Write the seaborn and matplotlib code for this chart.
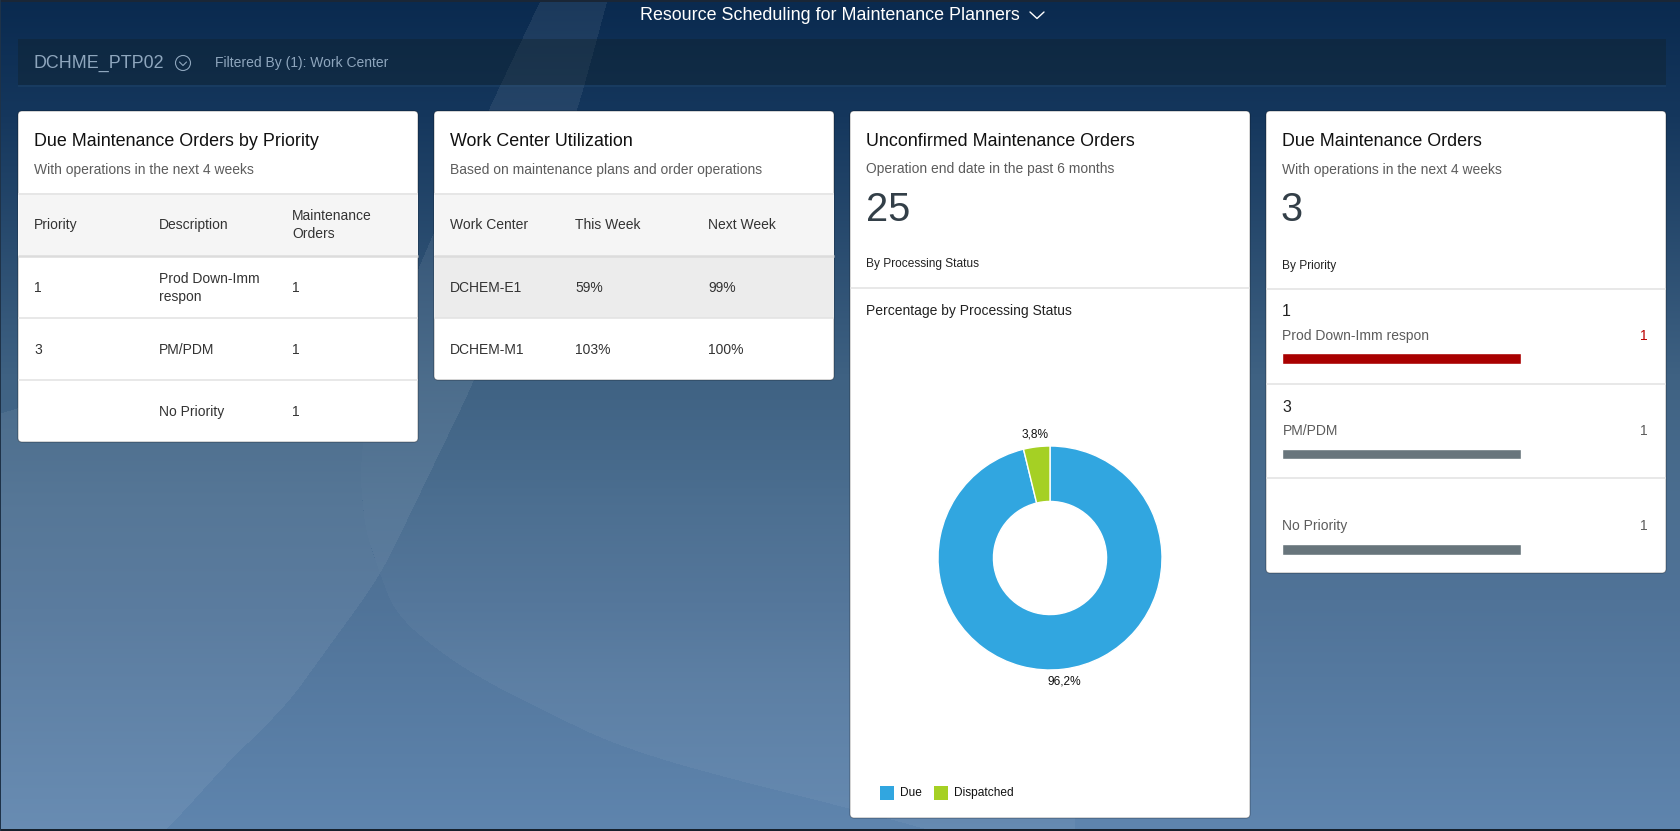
import numpy as np
import pandas as pd
import seaborn as sns
import matplotlib.pyplot as plt
from matplotlib.patches import FancyBboxPatch, Rectangle, Circle

W, H = 1681, 831

# chart values
priority_header = ["Priority", "Description", "Maintenance\nOrders"]
priority_codes = ["1", "3", ""]
priority_desc = ["Prod Down-Imm\nrespon", "PM/PDM", "No Priority"]
priority_orders = [1, 1, 1]

wc_header = ["Work Center", "This Week", "Next Week"]
wc_names = ["DCHEM-E1", "DCHEM-M1"]
wc_this_week = [59, 103]
wc_next_week = [99, 100]

status_names = ["Due", "Dispatched"]
status_pct = [96.2, 3.8]
status_colors = ["#31a6e0", "#a5d024"]

bar_desc = ["Prod Down-Imm respon", "PM/PDM", "No Priority"]
bar_values = [1, 1, 1]
bar_colors = ["#a90000", "#68757c", "#68757c"]

sns.set_theme(style="white")
plt.rcParams["font.family"] = ["Liberation Sans", "DejaVu Sans"]

fig = plt.figure(figsize=(W / 100, H / 100), dpi=100)
ax = fig.add_axes([0, 0, 1, 1])
ax.set_xlim(0, W)
ax.set_ylim(H, 0)
ax.axis("off")


def curve(ys, xs, n):
    # edge of a background swoosh, one x per pixel row, evened out over n rows each way
    rows = np.arange(-n, H + n)
    raw = np.interp(rows, ys, xs)
    return np.convolve(raw, np.ones(2 * n + 1) / (2 * n + 1), mode="valid")


# ── background ──────────────────────────────
yy, xx = np.mgrid[0:H, 0:W]
stops_y = [0, 110, 380, 500, 600, 830]
stops_c = np.array([[10, 42, 79], [20, 54, 92], [63, 98, 131], [75, 110, 144], [80, 115, 152], [95, 133, 174]])
bg = np.dstack([np.interp(yy, stops_y, stops_c[:, i]) for i in range(3)]).astype(float)

left_y = [-60, 0, 110, 240, 370, 443, 480, 530, 575, 613, 647, 680, 713, 747, 780, 807, 831, 880]
left_x = [571, 540, 488, 430, 375, 362, 360, 365, 380, 395, 433, 483, 549, 620, 735, 847, 935, 1100]
right_y = [-60, 0, 110, 380, 575, 713, 747, 831, 890]
right_x = [623, 607, 577, 474, 380, 280, 241, 165, 100]
L = curve(left_y, left_x, 18)[yy]
R = curve(right_y, right_x, 30)[yy]

alpha = np.zeros((H, W))
alpha[(xx > L) & (xx < R)] = 0.07
alpha[(xx < L) & (xx < R) & (yy > 413 - 0.3 * xx)] = 0.06
fade = np.clip((yy - 480) / 200, 0, 1) * 0.045
mask_b = (xx > L) & (xx > R) & (xx < 1075)
alpha[mask_b] = fade[mask_b]
bg = bg + (255 - bg) * alpha[..., None]

# header strip
strip = bg[39:85, 18:1666]
bg[39:85, 18:1666] = strip * 0.65 + np.array([15, 30, 35]) * 0.35
bg[85:87, 18:1666] = bg[85:87, 18:1666] * 0.8 + np.array([50, 90, 125]) * 0.2

# screenshot edge
bg[:2, :] = [26, 38, 54]
bg[-2:, :] = [22, 32, 44]
bg[:, 0] = [30, 50, 72]
bg[:, -1] = [30, 50, 72]

ax.imshow(bg.astype(np.uint8), extent=(0, W, H, 0), aspect="auto", zorder=0, interpolation="nearest")


def txt(x, y, s, px=14, color="#333333", ha="left", **kw):
    ax.text(x, y + 1, s, fontsize=px * 0.715, color=color, ha=ha, va="center", zorder=5, **kw)


def card(x0, y0, x1, y1):
    ax.add_patch(FancyBboxPatch((x0, y0), x1 - x0, y1 - y0, boxstyle="round,pad=0,rounding_size=4",
                                fc="white", ec=(0, 0, 0, 0.3), lw=0.8, zorder=2))


def hline(x0, x1, y, color="#e2e2e2", lw=1.1):
    ax.plot([x0, x1], [y, y], color=color, lw=lw, zorder=4, solid_capstyle="butt")


def panel_axes(x0, y0, x1, y1):
    a = fig.add_axes([x0 / W, 1 - y1 / H, (x1 - x0) / W, (y1 - y0) / H])
    a.patch.set_alpha(0)
    return a


# ── page header ──────────────────────────────
txt(640, 15, "Resource Scheduling for Maintenance Planners", 18, "white")
ax.plot([1030, 1037, 1044], [12, 18.5, 12], color="white", lw=1, zorder=5)
txt(34, 62, "DCHME_PTP02", 18, "#8ea6bd")
ax.add_patch(Circle((183, 63), 7.5, fc="none", ec="#8ea6bd", lw=0.8, zorder=5))
ax.plot([179.5, 183, 186.5], [62, 65.5, 62], color="#8ea6bd", lw=0.8, zorder=5)
txt(215, 62, "Filtered By (1): Work Center", 14, "#8ea6bd")

# ── table cards ──────────────────────────────
for x0, x1, y1, title, sub in [
    (18, 418, 442, "Due Maintenance Orders by Priority", "With operations in the next 4 weeks"),
    (434, 834, 380, "Work Center Utilization", "Based on maintenance plans and order operations"),
]:
    card(x0, 111, x1, y1)
    txt(x0 + 16, 141, title, 18, "#111111")
    txt(x0 + 16, 169, sub, 14, "#5c5c5c")
    ax.add_patch(Rectangle((x0, 193), x1 - x0, 63, fc="#f5f5f5", ec="none", zorder=3))
    hline(x0, x1, 193.5)
    hline(x0, x1, 256, "#dcdcdc", 1.8)

ax.add_patch(Rectangle((434, 257), 400, 61, fc="#ececec", ec="none", zorder=3))

row_y = [287, 349, 411]
for x, s in zip([34, 159, 292], priority_header):
    txt(x, 224, s, 14, "#333333", linespacing=1.35)
for y, code, desc, n in zip(row_y, priority_codes, priority_desc, priority_orders):
    txt(34, y, code)
    txt(159, y, desc, linespacing=1.35)
    txt(292, y, str(n))
hline(18, 418, 318)
hline(18, 418, 380)

for x, s in zip([450, 575, 708], wc_header):
    txt(x, 224, s)
for y, name, a, b in zip(row_y, wc_names, wc_this_week, wc_next_week):
    txt(450, y, name)
    txt(575, y, f"{a}%")
    txt(708, y, f"{b}%")
hline(434, 834, 318)

# ── donut card ──────────────────────────────
card(850, 111, 1250, 818)
txt(866, 140.5, "Unconfirmed Maintenance Orders", 18, "#111111")
txt(866, 168, "Operation end date in the past 6 months", 14, "#5c5c5c")
txt(866, 209, "25", 40, "#333f48")
txt(866, 263.5, "By Processing Status", 12, "#222222")
hline(850, 1250, 287.5)
txt(866, 310, "Percentage by Processing Status", 14, "#222222")

ax_pie = panel_axes(1050 - 140, 558 - 140, 1050 + 140, 558 + 140)
wedges, labels = ax_pie.pie(
    status_pct,
    labels=[f"{v:.1f}%".replace(".", ",") for v in status_pct],
    colors=status_colors,
    startangle=90,
    counterclock=False,
    labeldistance=1.11,
    wedgeprops={"width": 0.495, "edgecolor": "white", "linewidth": 1},
    textprops={"fontsize": 12 * 0.715, "color": "#111111"},
)
for t in labels:
    t.set_ha("center")
    t.set_va("center")

# legend
legend_x = [880, 934]
for x, name, c in zip(legend_x, status_names, status_colors):
    ax.add_patch(Rectangle((x, 786), 14, 14, fc=c, ec="none", zorder=5))
    txt(x + 20, 792, name, 12, "#111111")

# ── bar card ──────────────────────────────
card(1266, 111, 1666, 573)
txt(1282, 140.5, "Due Maintenance Orders", 18, "#111111")
txt(1282, 169, "With operations in the next 4 weeks", 14, "#5c5c5c")
txt(1281, 209, "3", 40, "#333f48")
txt(1282, 264.5, "By Priority", 12, "#222222")
hline(1266, 1666, 288.5)
hline(1266, 1666, 383.5)
hline(1266, 1666, 478)

for i, (code, desc, n, c) in enumerate(zip(priority_codes, bar_desc, bar_values, bar_colors)):
    txt(1282, 311 + 95 * i, code, 16, "#222222")
    txt(1282.5, 335 + 95 * i, desc, 14, "#5c5c5c")
    txt(1648, 335 + 95 * i, str(n), 14, "#bb0000" if i == 0 else "#5c5c5c", ha="right")

ax_bar = panel_axes(1282.5, 311, 1521, 597)
df_bar = pd.DataFrame({"desc": bar_desc, "orders": bar_values})
sns.barplot(data=df_bar, x="orders", y="desc", hue="desc", palette=bar_colors, legend=False,
            width=0.115, saturation=1, ax=ax_bar)
ax_bar.set_xlim(0, 1)
ax_bar.set_ylim(2.5, -0.5)
ax_bar.axis("off")

fig.savefig("out.png", dpi=100)
